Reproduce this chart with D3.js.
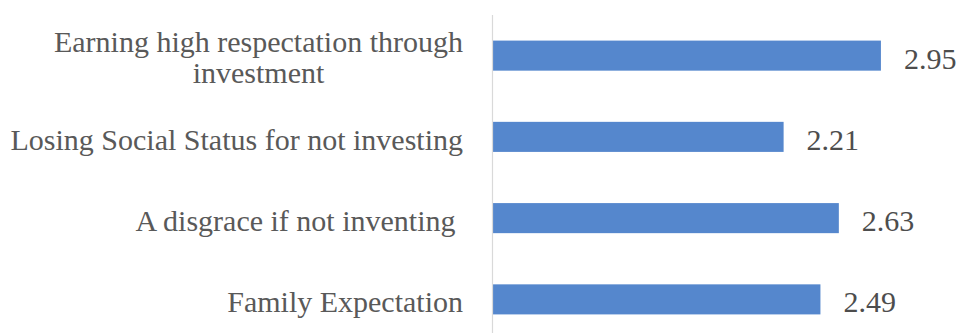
<!DOCTYPE html>
<html>
<head>
<meta charset="utf-8">
<script src="https://cdn.jsdelivr.net/npm/d3@7"></script>
<style>
  html, body { margin: 0; padding: 0; background: #ffffff; }
  svg { display: block; }
  text { font-family: "Liberation Serif", "Times New Roman", serif; white-space: pre; }
</style>
</head>
<body>
<svg id="chart" width="959" height="333"></svg>
<script>
// Category labels (top to bottom); "\n" marks a manual line break
const categories = [
  "Earning high respectation through\ninvestment",
  "Losing Social Status for not investing",
  "A disgrace if not inventing ",
  "Family Expectation"
];
// Mean scores
const values = [2.95, 2.21, 2.63, 2.49];

const width = 959, height = 333;
const svg = d3.select("#chart");

const x = d3.scaleLinear().domain([0, 3.5]).range([493, 493 + 3.5 * 131.5]);
const y = d3.scaleBand()
  .domain(categories)
  .range([15, 340])
  .paddingInner(0.63)
  .paddingOuter(0.315);

const rows = categories.map((c, i) => ({ cat: c, val: values[i] }));

// Bars
svg.append("g").selectAll("rect")
  .data(rows)
  .join("rect")
  .attr("x", x(0))
  .attr("y", d => y(d.cat))
  .attr("width", d => x(d.val) - x(0))
  .attr("height", y.bandwidth())
  .attr("fill", "#5587cd");

// Vertical category axis line
const axis = d3.axisLeft(y).tickSize(0).tickFormat("");
const gAxis = svg.append("g")
  .attr("transform", `translate(${x(0) - 1},0)`)
  .call(axis);
gAxis.select(".domain").attr("stroke", "#d9d9d9").attr("stroke-width", 1.2)
  .attr("d", `M0.5,15V${height}`);

// Category labels
const labelRight = 463;
const fontSize = 30;
const labelG = svg.append("g")
  .attr("font-size", fontSize)
  .attr("fill", "#595959");

rows.forEach(d => {
  const lines = d.cat.split("\n");
  const cy = y(d.cat) + y.bandwidth() / 2;
  if (lines.length === 1) {
    labelG.append("text")
      .attr("x", labelRight)
      .attr("y", cy + 13)
      .attr("text-anchor", "end")
      .text(lines[0]);
  } else {
    const first = labelG.append("text")
      .attr("x", labelRight)
      .attr("y", cy - 4)
      .attr("text-anchor", "end")
      .text(lines[0]);
    const w = first.node().getComputedTextLength();
    labelG.append("text")
      .attr("x", labelRight - w / 2)
      .attr("y", cy + 27.7)
      .attr("text-anchor", "middle")
      .text(lines[1]);
  }
});

// Value labels
svg.append("g")
  .attr("font-size", fontSize)
  .attr("fill", "#4d4d4d")
  .selectAll("text")
  .data(rows)
  .join("text")
  .attr("x", d => x(d.val) + 23)
  .attr("y", d => y(d.cat) + y.bandwidth() / 2 + 13)
  .text(d => d3.format(".2f")(d.val));
</script>
</body>
</html>
